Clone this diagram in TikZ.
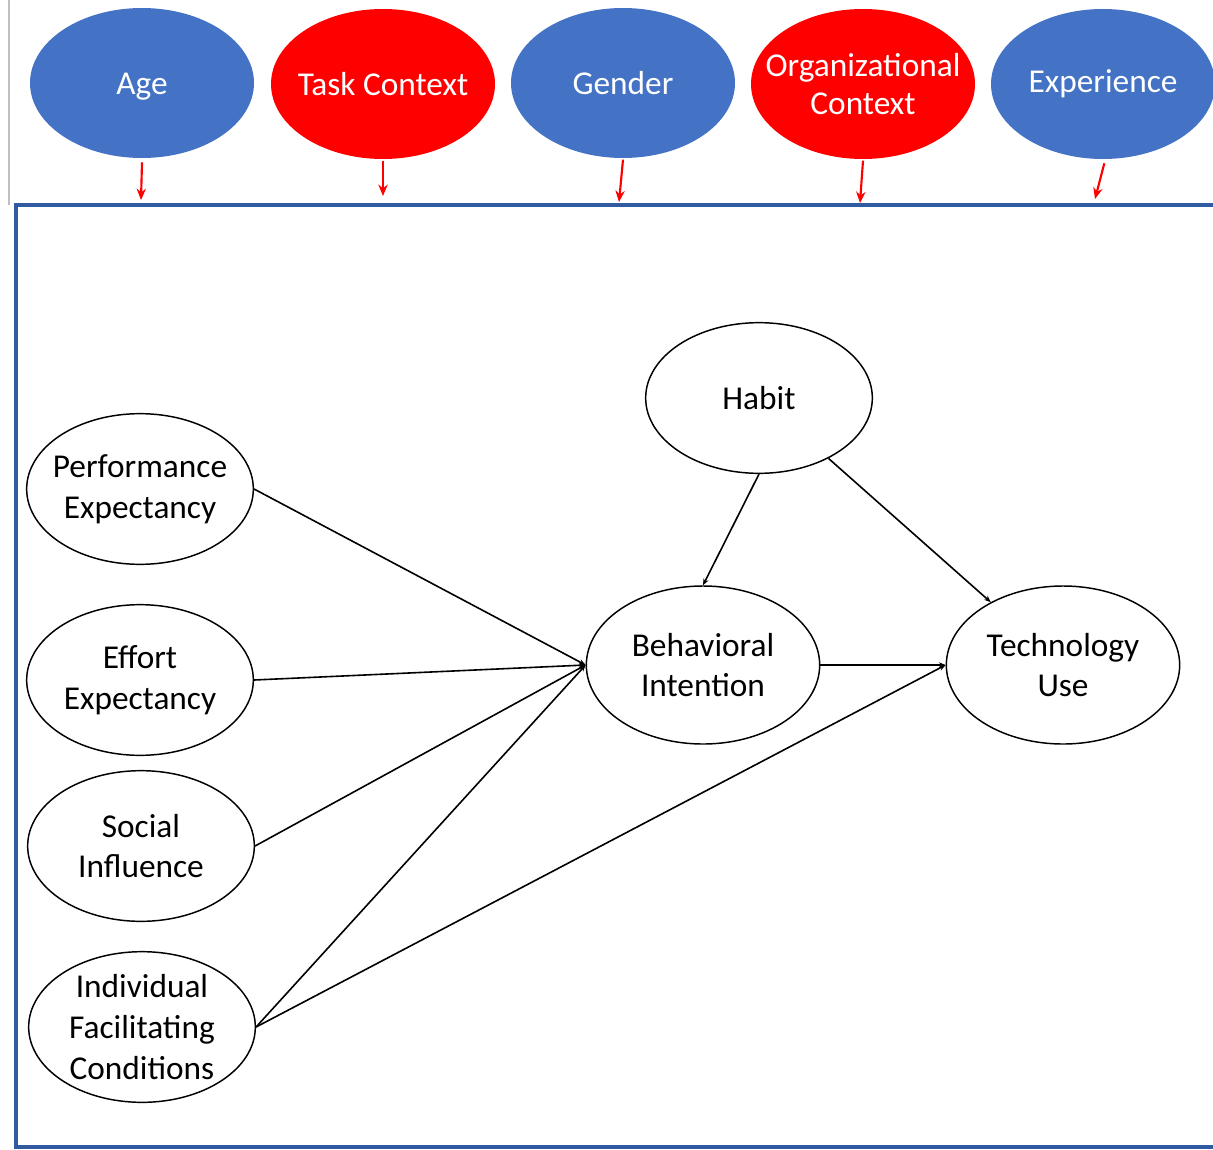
\documentclass[tikz,border=0pt]{standalone}
\usepackage{fontspec}
\setmainfont{Carlito}
\usetikzlibrary{shapes.geometric,arrows.meta}
\definecolor{offblue}{RGB}{68,114,196}
\definecolor{framblue}{RGB}{50,90,160}
\definecolor{pured}{RGB}{255,0,0}
\tikzset{
  topell/.style={ellipse,inner sep=0pt,minimum width=168pt,minimum height=112.5pt},
  blueell/.style={topell,fill=offblue},
  redell/.style={topell,fill=pured},
  conell/.style={ellipse,draw=black,line width=1.1pt,fill=white,inner sep=0pt,minimum width=170pt,minimum height=113pt},
  bigell/.style={conell,minimum width=175pt,minimum height=118.5pt},
  wtxt/.style={label={[align=center,text=white]center:#1}},
  btxt/.style={label={[align=center,text=black]center:#1}},
  link/.style={black,line width=1.2pt,-{Stealth[length=5pt,width=4pt]}},
  redarrow/.style={pured,line width=1.6pt,-{Stealth[length=8.5pt,width=7pt]}},
}
\begin{document}
\begin{tikzpicture}[x=0.75pt,y=-0.75pt,font=\fontsize{25}{30.5}\selectfont]
\useasboundingbox (0,0) rectangle (1213,1149);
% left thin line and frame
\draw[black!25,line width=1pt] (9,0) -- (9,205);
\draw[framblue,line width=2.4pt] (16,205) rectangle (1220,1147);
% top moderators
\node[blueell,label={[align=center,text=white,yshift=-2.5pt]center:Age}] (age) at (142,83) {};
\node[redell,wtxt={Task Context}] (task) at (383,84) {};
\node[blueell,wtxt={Gender}] (gender) at (623,83) {};
\node[redell,label={[align=center,text=white,font=\fontsize{25}{28.5}\selectfont]center:Organizational\\Context}] (org) at (863,84) {};
\node[blueell,wtxt={Experience}] (exp) at (1103,84) {};
\coordinate (a1) at (141,200);
\coordinate (a2) at (383,196);
\coordinate (a3) at (619,202);
\coordinate (a4) at (860,203);
\coordinate (a5) at (1095,199);
\draw[redarrow] ([yshift=-3pt]age.south) -- (a1);
\draw[redarrow] ([yshift=-1pt]task.south) -- (a2);
\draw[redarrow] ([yshift=-1pt]gender.south) -- (a3);
\draw[redarrow] ([yshift=-1pt]org.south) -- (a4);
\draw[redarrow] ([xshift=1pt,yshift=-3pt]exp.south) -- (a5);
% constructs
\node[conell,btxt={Performance\\Expectancy}] (pe) at (140,489) {};
\node[conell,btxt={Effort\\Expectancy}] (ee) at (140,680) {};
\node[conell,btxt={Social\\Influence}] (si) at (141,846) {};
\node[conell,btxt={Individual\\Facilitating\\Conditions}] (ifc) at (142,1027) {};
\node[conell,btxt={Habit}] (habit) at (759,398) {};
\node[bigell,btxt={Behavioral\\Intention}] (bi) at (703,665) {};
\node[bigell,btxt={Technology\\Use}] (tu) at (1063,665) {};
% links
\draw[link] (pe.east) -- (bi.west);
\draw[link] (ee.east) -- (bi.west);
\draw[link] (si.east) -- (bi.west);
\draw[link] (ifc.east) -- (bi.west);
\draw[link] (ifc.east) -- (tu.west);
\draw[link] (bi.east) -- (tu.west);
\draw[link] (habit.south) -- (bi.north);
\draw[link] (habit.-41) -- (tu.139);
\end{tikzpicture}
\end{document}
